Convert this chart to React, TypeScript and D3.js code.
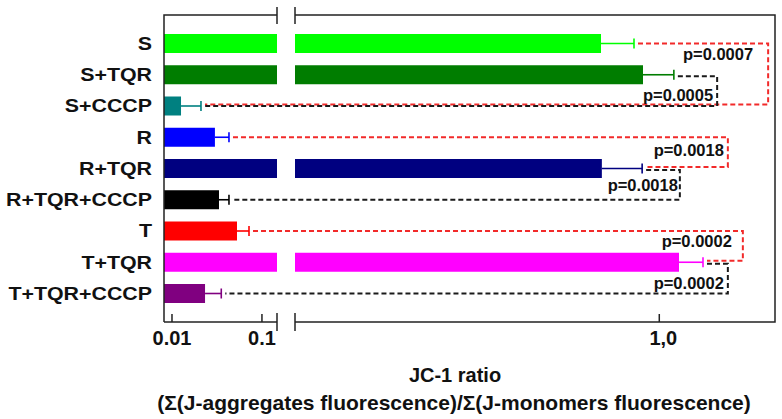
import React from 'react';
import * as d3 from 'd3';

// groups, top to bottom
const categories = ['S', 'S+TQR', 'S+CCCP', 'R', 'R+TQR', 'R+TQR+CCCP', 'T', 'T+TQR', 'T+TQR+CCCP'];
const values = [0.864, 0.962, 0.0126, 0.030, 0.866, 0.0333, 0.0528, 1.046, 0.0233];
const errors = [0.077, 0.072, 0.0084, 0.013, 0.094, 0.0097, 0.019, 0.056, 0.012];
const colors = ['#00ff00', '#007d00', '#008080', '#0000ff', '#000080', '#000000', '#ff0000', '#ff00ff', '#800080'];

const leftTicks = [0.01, 0.1];
const leftTickLabels = ['0.01', '0.1'];
const rightTicks = [1.0];
const rightTickLabels = ['1,0'];

// significance brackets: from group, to group, p text, colour, where the vertical dash sits (axis units)
const bracketFrom = ['S', 'S+TQR', 'R', 'R+TQR', 'T', 'T+TQR'];
const bracketTo = ['S+CCCP', 'S+CCCP', 'R+TQR', 'R+TQR+CCCP', 'T+TQR', 'T+TQR+CCCP'];
const bracketP = ['p=0.0007', 'p=0.0005', 'p=0.0018', 'p=0.0018', 'p=0.0002', 'p=0.0002'];
const bracketKind = ['red', 'black', 'red', 'black', 'red', 'black'];
const bracketEnd = [1.254, 1.135, 1.16, 1.048, 1.195, 1.16];

const titleText = 'JC-1 ratio';
const subtitleText = '(\u03A3(J-aggregates fluorescence)/\u03A3(J-monomers fluorescence)';

export default function App() {
  const width = 782, height = 419;
  const left = 164, breakL = 277, breakR = 295, right = 775;
  const top = 15, bottom = 322;
  const font = '"Liberation Sans", Arial, sans-serif';
  const axisCol = '#222';

  // broken axis: log part on the left, linear part on the right
  const xLog = d3.scaleLog().domain([0.00815, 0.147]).range([left, breakL]);
  const xLin = d3.scaleLinear().domain([0.15, 1.27]).range([breakR, right]);
  const split = 0.147;
  const xv = (v: number) => (v <= split ? xLog(v) : xLin(v));

  const y = d3.scalePoint<string>().domain(categories).range([43.5, 293.5]);
  const barH = 19;
  const capH = 10;

  const dashCol = { red: '#f22a2a', black: '#1a1a1a' } as Record<string, string>;
  // where each p label sits: fraction between the two rows, gap to the vertical dash
  const labelFrac = [0.18, 0.63, 0.44, 0.52, 0.32, 0.66];
  const labelGap = [15, 4, 4, 2, 11, 4];

  return (
    <svg width={width} height={height} style={{ position: 'absolute', left: 0, top: 0 }}
      fontFamily={font} fontWeight="bold">
      <rect width={width} height={height} fill="#fff" />

      {/* bars */}
      {categories.map((c, i) => {
        const v = values[i];
        const yc = y(c)!;
        const e = v + errors[i];
        const ex = xv(e);
        const bx = xv(v);
        return (
          <g key={c}>
            {v <= split ? (
              <rect x={left} y={yc - barH / 2} width={bx - left} height={barH} fill={colors[i]} />
            ) : (
              <>
                <rect x={left} y={yc - barH / 2} width={breakL - left} height={barH} fill={colors[i]} />
                <rect x={breakR} y={yc - barH / 2} width={bx - breakR} height={barH} fill={colors[i]} />
              </>
            )}
            <line x1={bx} x2={ex} y1={yc} y2={yc} stroke={colors[i]} strokeWidth={1.6} />
            <line x1={ex} x2={ex} y1={yc - capH / 2} y2={yc + capH / 2} stroke={colors[i]} strokeWidth={1.6} />
          </g>
        );
      })}

      {/* significance brackets */}
      {bracketFrom.map((f, i) => {
        const fi = categories.indexOf(f);
        const ti = categories.indexOf(bracketTo[i]);
        const red = bracketKind[i] === 'red';
        const y1 = y(f)! + (red ? 0 : 1.5);
        const y2 = y(bracketTo[i])! + (red ? -1.5 : 0);
        const xs1 = xv(values[fi] + errors[fi]) + 4;
        const xs2 = xv(values[ti] + errors[ti]) + 4;
        const xe = xLin(bracketEnd[i]);
        const ly = y1 + (y2 - y1) * labelFrac[i] + 6;
        return (
          <g key={i}>
            <path d={`M${xs1},${y1}H${xe}V${y2}H${xs2}`} fill="none"
              stroke={dashCol[bracketKind[i]]} strokeWidth={2} strokeDasharray="5,3" />
            <text x={xe - labelGap[i]} y={ly} textAnchor="end" fontSize={16.5} fill="#111">{bracketP[i]}</text>
          </g>
        );
      })}

      {/* frame with breaks */}
      <g stroke={axisCol} strokeWidth={1.5} fill="none">
        <path d={`M${left},${bottom}V${top}H${breakL}`} />
        <path d={`M${breakR},${top}H${right}V${bottom}H${breakR}`} />
        <path d={`M${left},${bottom}H${breakL}`} />
        <line x1={breakL} x2={breakL} y1={top - 8} y2={top + 9} />
        <line x1={breakR} x2={breakR} y1={top - 8} y2={top + 9} />
        <line x1={breakL} x2={breakL} y1={bottom - 9} y2={bottom + 9} />
        <line x1={breakR} x2={breakR} y1={bottom - 9} y2={bottom + 9} />
        {leftTicks.map(t => (
          <line key={t} x1={xLog(t)} x2={xLog(t)} y1={bottom - 8} y2={bottom} />
        ))}
        {rightTicks.map(t => (
          <line key={t} x1={xLin(t)} x2={xLin(t)} y1={bottom - 8} y2={bottom} />
        ))}
      </g>

      {/* tick labels */}
      {leftTicks.map((t, i) => (
        <text key={t} x={xLog(t)} y={345} textAnchor="middle" fontSize={20} fill="#111">{leftTickLabels[i]}</text>
      ))}
      {rightTicks.map((t, i) => (
        <text key={t} x={xLin(t) + 4} y={345} textAnchor="middle" fontSize={20} fill="#111">{rightTickLabels[i]}</text>
      ))}

      {/* category labels */}
      {categories.map(c => (
        <text key={c} transform={`translate(152,${y(c)! + 6.3}) scale(1.2,1)`} textAnchor="end"
          fontSize={17.8} fill="#111">{c}</text>
      ))}

      {/* axis title */}
      <text x={455} y={382} textAnchor="middle" fontSize={20} fill="#111">{titleText}</text>
      <text x={454} y={410} textAnchor="middle" fontSize={21} fill="#111">{subtitleText}</text>
    </svg>
  );
}
